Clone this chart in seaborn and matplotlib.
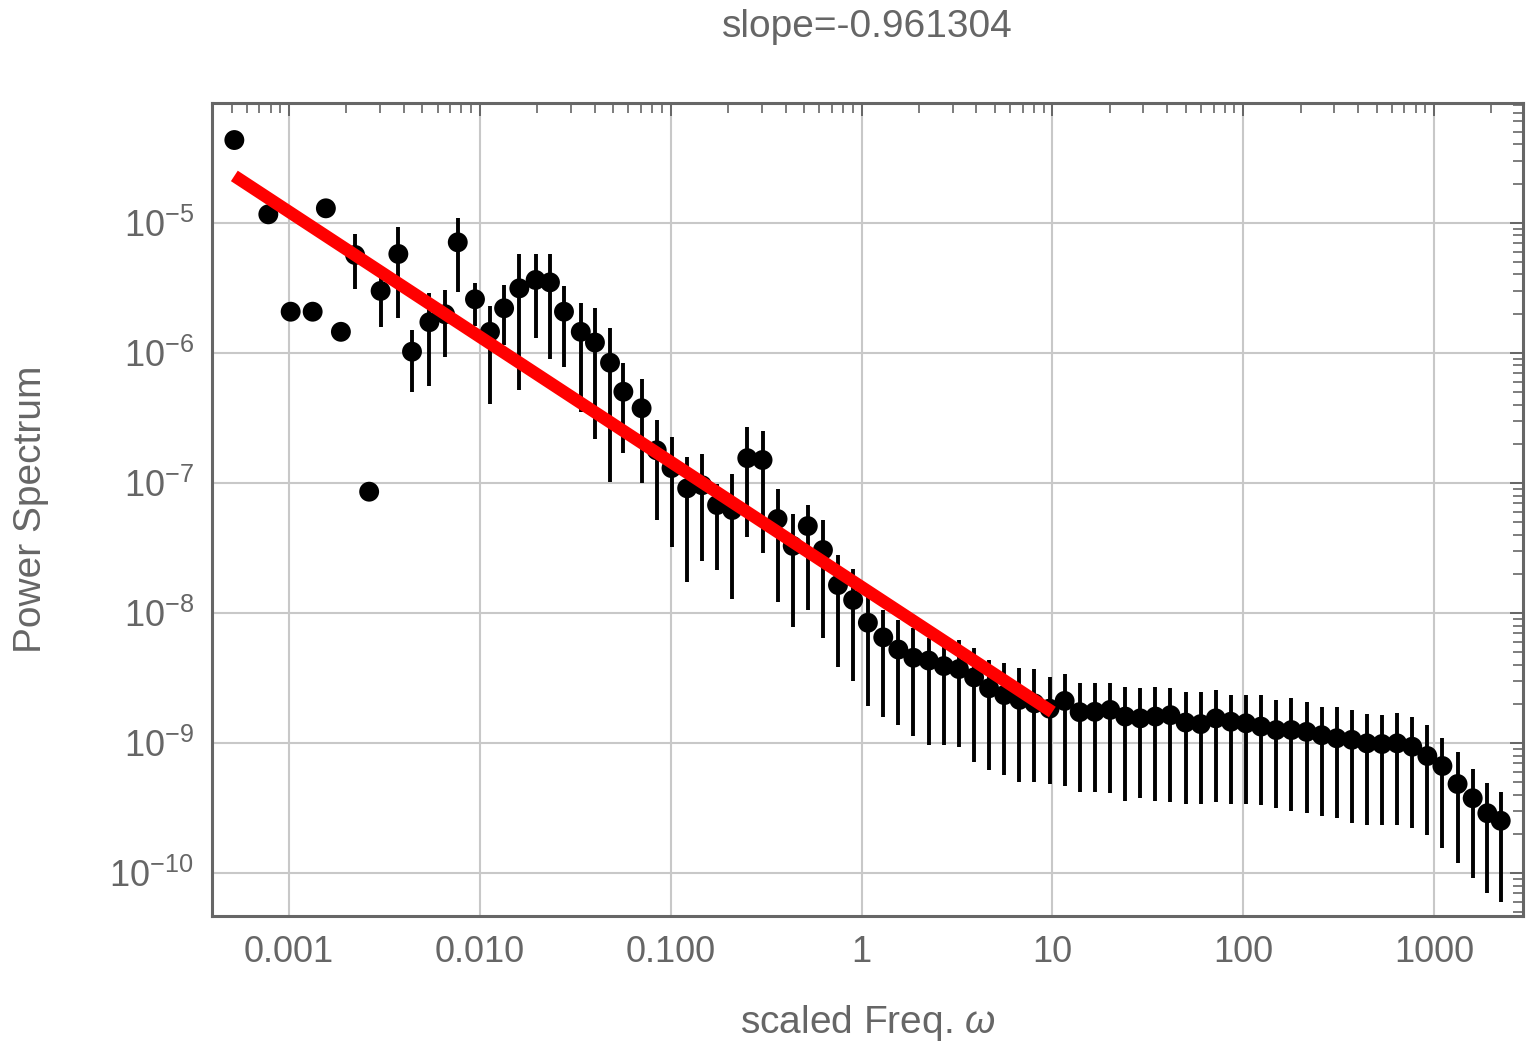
import numpy as np
import pandas as pd
import matplotlib
matplotlib.use("Agg")
import matplotlib.pyplot as plt
import seaborn as sns
from matplotlib.ticker import (FixedLocator, FixedFormatter, LogLocator,
                               NullFormatter, LogFormatterSciNotation)

# ---------------- data ----------------
freq = [5.17e-4, 7.79e-4, 1.02e-3, 1.33e-3, 1.56e-3, 1.87e-3, 2.22e-3, 2.63e-3,
        3.02e-3, 3.74e-3, 4.41e-3, 5.44e-3, 6.57e-3, 7.66e-3, 9.43e-3, 0.0113,
        0.0134, 0.0161, 0.0196, 0.0233, 0.0276, 0.0338, 0.0401, 0.0481, 0.0565,
        0.0704, 0.0845, 0.101, 0.122, 0.146, 0.175, 0.210, 0.252, 0.303, 0.363,
        0.436, 0.523, 0.628, 0.753, 0.904, 1.08, 1.30, 1.56, 1.87, 2.25, 2.70,
        3.24, 3.89, 4.66, 5.60, 6.72, 8.06, 9.67, 11.6, 13.9, 16.7, 20.1, 24.1,
        28.9, 34.7, 41.6, 49.9, 59.9, 71.9, 86.2, 103.5, 124.0, 149.0, 179.0,
        215.0, 258.0, 309.0, 371.0, 445.0, 534.0, 641.0, 769.0, 923.0, 1107.0,
        1329.0, 1595.0, 1904.0, 2237.0]

power = [4.32e-5, 1.16e-5, 2.07e-6, 2.07e-6, 1.29e-5, 1.45e-6, 5.65e-6, 8.56e-8,
         2.99e-6, 5.75e-6, 1.02e-6, 1.72e-6, 1.98e-6, 7.07e-6, 2.58e-6, 1.45e-6,
         2.20e-6, 3.13e-6, 3.63e-6, 3.48e-6, 2.07e-6, 1.45e-6, 1.20e-6, 8.39e-7,
         5.02e-7, 3.75e-7, 1.78e-7, 1.30e-7, 9.09e-8, 9.60e-8, 6.76e-8, 6.19e-8,
         1.55e-7, 1.50e-7, 5.28e-8, 3.28e-8, 4.66e-8, 3.05e-8, 1.64e-8, 1.26e-8,
         8.42e-9, 6.50e-9, 5.24e-9, 4.53e-9, 4.31e-9, 3.91e-9, 3.71e-9, 3.20e-9,
         2.64e-9, 2.34e-9, 2.15e-9, 2.02e-9, 1.84e-9, 2.11e-9, 1.73e-9, 1.74e-9,
         1.80e-9, 1.60e-9, 1.55e-9, 1.60e-9, 1.64e-9, 1.44e-9, 1.40e-9, 1.55e-9,
         1.46e-9, 1.42e-9, 1.34e-9, 1.26e-9, 1.26e-9, 1.22e-9, 1.15e-9, 1.09e-9,
         1.06e-9, 9.96e-10, 9.84e-10, 9.96e-10, 9.38e-10, 7.96e-10, 6.67e-10,
         4.85e-10, 3.77e-10, 2.89e-10, 2.53e-10]

err_low = [4.32e-5, 1.16e-5, 2.07e-6, 2.07e-6, 1.29e-5, 1.45e-6, 3.09e-6, 8.56e-8,
           1.58e-6, 1.85e-6, 5.00e-7, 5.56e-7, 9.28e-7, 2.93e-6, 1.61e-6, 4.04e-7,
           1.15e-6, 5.18e-7, 1.31e-6, 8.96e-7, 7.82e-7, 3.53e-7, 2.18e-7, 1.02e-7,
           1.70e-7, 9.98e-8, 5.19e-8, 3.23e-8, 1.74e-8, 2.51e-8, 2.14e-8, 1.29e-8,
           3.86e-8, 2.89e-8, 1.22e-8, 7.84e-9, 1.05e-8, 6.43e-9, 3.87e-9, 3.00e-9,
           1.93e-9, 1.58e-9, 1.38e-9, 1.13e-9, 9.67e-10, 9.67e-10, 9.38e-10, 7.19e-10,
           6.21e-10, 5.68e-10, 5.05e-10, 5.05e-10, 4.85e-10, 4.72e-10, 4.21e-10,
           4.20e-10, 4.11e-10, 3.62e-10, 3.77e-10, 3.62e-10, 3.54e-10, 3.40e-10,
           3.40e-10, 3.54e-10, 3.40e-10, 3.40e-10, 3.34e-10, 3.15e-10, 3.01e-10,
           2.89e-10, 2.77e-10, 2.64e-10, 2.44e-10, 2.35e-10, 2.35e-10, 2.35e-10,
           2.21e-10, 1.97e-10, 1.55e-10, 1.19e-10, 9.14e-11, 7.00e-11, 6.04e-11]

err_high = [4.32e-5, 1.16e-5, 2.07e-6, 2.07e-6, 1.29e-5, 1.45e-6, 8.19e-6, 8.56e-8,
            4.39e-6, 9.27e-6, 1.50e-6, 2.87e-6, 3.04e-6, 1.09e-5, 3.44e-6, 2.29e-6,
            3.32e-6, 5.75e-6, 5.75e-6, 5.75e-6, 3.26e-6, 2.43e-6, 2.21e-6, 1.55e-6,
            8.35e-7, 6.29e-7, 3.05e-7, 2.27e-7, 1.59e-7, 1.67e-7, 9.84e-8, 1.17e-7,
            2.70e-7, 2.51e-7, 8.98e-8, 5.77e-8, 6.80e-8, 5.19e-8, 2.79e-8, 2.18e-8,
            1.34e-8, 1.05e-8, 8.84e-9, 7.63e-9, 6.39e-9, 5.51e-9, 6.20e-9, 5.36e-9,
            4.35e-9, 4.11e-9, 3.76e-9, 3.69e-9, 3.20e-9, 3.40e-9, 2.90e-9, 2.90e-9,
            2.89e-9, 2.71e-9, 2.64e-9, 2.71e-9, 2.67e-9, 2.46e-9, 2.48e-9, 2.56e-9,
            2.34e-9, 2.34e-9, 2.34e-9, 2.15e-9, 2.21e-9, 2.08e-9, 1.91e-9, 1.89e-9,
            1.80e-9, 1.67e-9, 1.64e-9, 1.69e-9, 1.58e-9, 1.38e-9, 1.09e-9, 8.59e-10,
            6.29e-10, 4.96e-10, 4.23e-10]

fit_slope = -0.961304
fit_amplitude = 1.586e-8
fit_range = [5.17e-4, 10.0]

x_ticks = [0.001, 0.01, 0.1, 1, 10, 100, 1000]
x_tick_labels = ["0.001", "0.010", "0.100", "1", "10", "100", "1000"]
y_ticks = [1e-10, 1e-9, 1e-8, 1e-7, 1e-6, 1e-5]

title_text = "slope=-0.961304"
x_label = r"scaled Freq. $\omega$"
y_label = "Power Spectrum"

# ---------------- style ----------------
sns.set_theme(style="white")
GRAY = "#666666"
plt.rcParams["font.family"] = ["Liberation Sans", "DejaVu Sans"]
plt.rcParams["mathtext.fontset"] = "custom"
plt.rcParams["mathtext.rm"] = "Liberation Sans"
plt.rcParams["mathtext.it"] = "Liberation Sans:italic"
plt.rcParams["mathtext.bf"] = "Liberation Sans:bold"

W, H = 1527, 1043
fig = plt.figure(figsize=(W / 100, H / 100), dpi=100)
L, R, T, B = 212, 1523, 103, 916
ax = fig.add_axes([L / W, 1 - B / H, (R - L) / W, (B - T) / H])
ax.set_xscale("log")
ax.set_yscale("log")

df = pd.DataFrame({"freq": freq, "power": power, "lo": err_low, "hi": err_high})

ax.vlines(df["freq"], df["lo"], df["hi"], color="black", lw=2.8, zorder=2)
sns.scatterplot(data=df, x="freq", y="power", ax=ax, color="black", s=205,
                edgecolor="none", linewidth=0, zorder=3, legend=False)

fit_x = np.array(fit_range)
fit_df = pd.DataFrame({"x": fit_x, "y": fit_amplitude * fit_x ** fit_slope})
sns.lineplot(data=fit_df, x="x", y="y", ax=ax, color="#ff0000", lw=9,
             zorder=4, solid_capstyle="butt", legend=False)

ax.set_xlim(3.948e-4, 2927)
ax.set_ylim(4.69e-11, 8.32e-5)

ax.xaxis.set_major_locator(FixedLocator(x_ticks))
ax.xaxis.set_major_formatter(FixedFormatter(x_tick_labels))
ax.xaxis.set_minor_locator(LogLocator(base=10, subs=np.arange(2, 10), numticks=30))
ax.xaxis.set_minor_formatter(NullFormatter())
ax.yaxis.set_major_locator(FixedLocator(y_ticks))
ax.yaxis.set_major_formatter(LogFormatterSciNotation())
ax.yaxis.set_minor_locator(LogLocator(base=10, subs=np.arange(2, 10), numticks=30))
ax.yaxis.set_minor_formatter(NullFormatter())

ax.tick_params(which="both", direction="in", top=True, right=True,
               color=GRAY, labelcolor=GRAY)
ax.tick_params(which="major", length=9.5, width=1.4, labelsize=26)
ax.tick_params(which="minor", length=7, width=1.2)
ax.tick_params(axis="x", which="major", pad=14)
ax.tick_params(axis="y", which="major", pad=13)

ax.grid(True, which="major", color="#c8c8c8", lw=1.5)
ax.grid(False, which="minor")
ax.set_axisbelow(True)
for s in ax.spines.values():
    s.set_visible(True)
    s.set_color(GRAY)
    s.set_linewidth(2.2)

ax.set_title(title_text, fontsize=28, color=GRAY, pad=0,
             y=1 + (T - 27) / (B - T), va="center")
ax.set_xlabel(x_label, fontsize=28, color=GRAY)
ax.xaxis.set_label_coords(0.5, (B - 1023) / (B - T))
ax.xaxis.label.set_va("center")
ax.set_ylabel(y_label, fontsize=28, color=GRAY)
ax.yaxis.set_label_coords((31 - L) / (R - L), 0.5)
ax.yaxis.label.set_va("center")

fig.savefig("out.png", dpi=100)
